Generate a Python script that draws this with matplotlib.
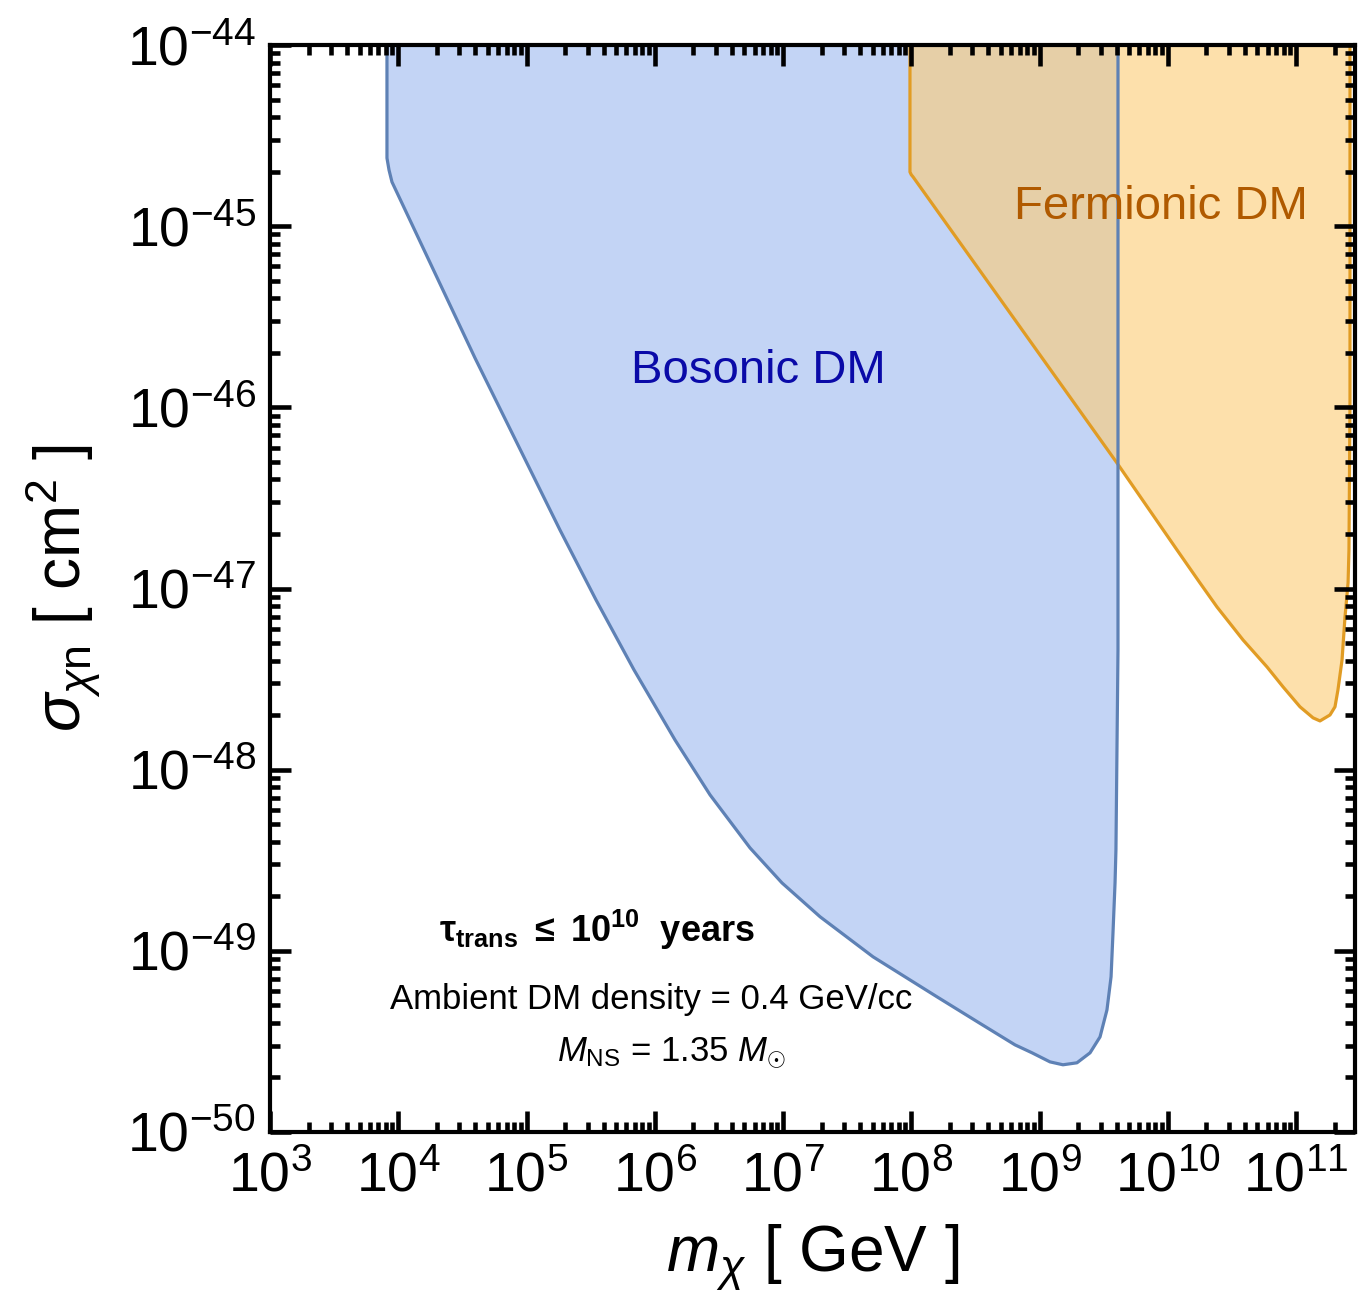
import numpy as np
import matplotlib
matplotlib.use("Agg")
import matplotlib.pyplot as plt
from matplotlib.ticker import LogLocator, NullFormatter

plt.rcParams["font.family"] = ["Liberation Sans", "DejaVu Sans"]
plt.rcParams["mathtext.fontset"] = "custom"
plt.rcParams["mathtext.rm"] = "Liberation Sans"
plt.rcParams["mathtext.it"] = "Liberation Sans:italic"
plt.rcParams["mathtext.bf"] = "Liberation Sans:bold"

# boundaries, as log10 values
boson_log_m = [3.912, 3.912, 3.928, 3.951, 4.600, 5.261, 5.542, 5.838, 6.158, 6.431,
               6.743, 6.992, 7.289, 7.702, 8.201, 8.528, 8.809,
               8.942, 9.082, 9.183, 9.292, 9.394, 9.472, 9.526, 9.558, 9.573, 9.589,
               9.596, 9.604, 9.612, 9.612]
boson_log_sigma = [-43.9, -44.624, -44.690, -44.756, -45.730, -46.677, -47.063, -47.449, -47.836, -48.139,
                   -48.432, -48.625, -48.812, -49.033, -49.254, -49.397, -49.519,
                   -49.563, -49.613, -49.629, -49.618, -49.563, -49.475, -49.326, -49.143, -48.901, -48.625,
                   -48.443, -47.891, -47.339, -43.9]

fermion_log_m = [7.990, 7.990, 8.000, 8.014, 9.604, 10.072, 10.251, 10.384, 10.587, 10.774,
                 10.899, 11.031, 11.133, 11.187, 11.265, 11.304, 11.327, 11.359, 11.382, 11.406,
                 11.413, 11.421, 11.421]
fermion_log_sigma = [-43.9, -44.701, -44.716, -44.728, -46.307, -46.787, -46.969, -47.102, -47.284, -47.433,
                     -47.543, -47.653, -47.714, -47.731, -47.698, -47.653, -47.560, -47.394, -47.157, -46.969,
                     -46.787, -45.959, -43.9]

x_major = [1e3, 1e4, 1e5, 1e6, 1e7, 1e8, 1e9, 1e10, 1e11]
y_major = [1e-50, 1e-49, 1e-48, 1e-47, 1e-46, 1e-45, 1e-44]

bm = 10 ** np.array(boson_log_m)
bs = 10 ** np.array(boson_log_sigma)
fm = 10 ** np.array(fermion_log_m)
fs = 10 ** np.array(fermion_log_sigma)

fig = plt.figure(figsize=(13.59, 13.08), dpi=100)
ax = fig.add_axes([270 / 1359, 1 - 1132 / 1308, 1085 / 1359, 1087 / 1308])
ax.set_xscale("log")
ax.set_yscale("log")

ax.fill(bm, bs, color="#c3d4f5", lw=0, zorder=0.5)
ax.fill(fm, fs, color="#fccd78", alpha=0.62, lw=0, zorder=0.6)
ax.plot(fm, fs, color="#e19c24", lw=2.3, zorder=0.8, solid_joinstyle="round")
ax.plot(bm, bs, color="#5e81b5", lw=2.3, zorder=0.9, solid_joinstyle="round")

ax.set_xlim(1e3, 10 ** 11.46)
ax.set_ylim(1e-50, 1e-44)

ax.xaxis.set_major_locator(LogLocator(base=10, numticks=20))
ax.yaxis.set_major_locator(LogLocator(base=10, numticks=20))
ax.xaxis.set_minor_locator(LogLocator(base=10, subs=np.arange(2, 10), numticks=20))
ax.yaxis.set_minor_locator(LogLocator(base=10, subs=np.arange(2, 10), numticks=20))
ax.xaxis.set_minor_formatter(NullFormatter())
ax.yaxis.set_minor_formatter(NullFormatter())
ax.set_xticks(x_major)
ax.set_yticks(y_major)

ax.tick_params(which="both", direction="in", top=True, right=True, width=3.3, labelsize=40)
ax.tick_params(which="major", length=15)
ax.tick_params(which="minor", length=7)
ax.tick_params(axis="x", pad=14)
ax.tick_params(axis="y", pad=10)
for sp in ax.spines.values():
    sp.set_linewidth(3)
    sp.set_zorder(5)

ax.set_xlabel(r"$m_{\chi}\ [\ \mathrm{GeV}\ ]$", fontsize=46, labelpad=14)
ax.set_ylabel(r"$\sigma_{\chi\mathrm{n}}\ [\ \mathrm{cm}^2\ ]$", fontsize=46, labelpad=18)

ax.text(10 ** 6.805, 10 ** -45.80, "Bosonic DM", color="#0a0aa8", fontsize=34, ha="center", va="center")
ax.text(10 ** 9.947, 10 ** -44.894, "Fermionic DM", color="#b05a00", fontsize=34, ha="center", va="center")

ax.text(10 ** 5.55, 10 ** -48.884, r"$\mathbf{\tau_{trans}\ \leq\ 10^{10}\ \ years}$", fontsize=26,
        ha="center", va="center")
ax.text(10 ** 5.971, 10 ** -49.27, "Ambient DM density = 0.4 GeV/cc", fontsize=25, ha="center", va="center")
ax.text(10 ** 6.127, 10 ** -49.563, r"$M_{\mathrm{NS}}$ = 1.35 $M_{\odot}$", fontsize=25, ha="center", va="center")

fig.savefig("out.png", dpi=100)
